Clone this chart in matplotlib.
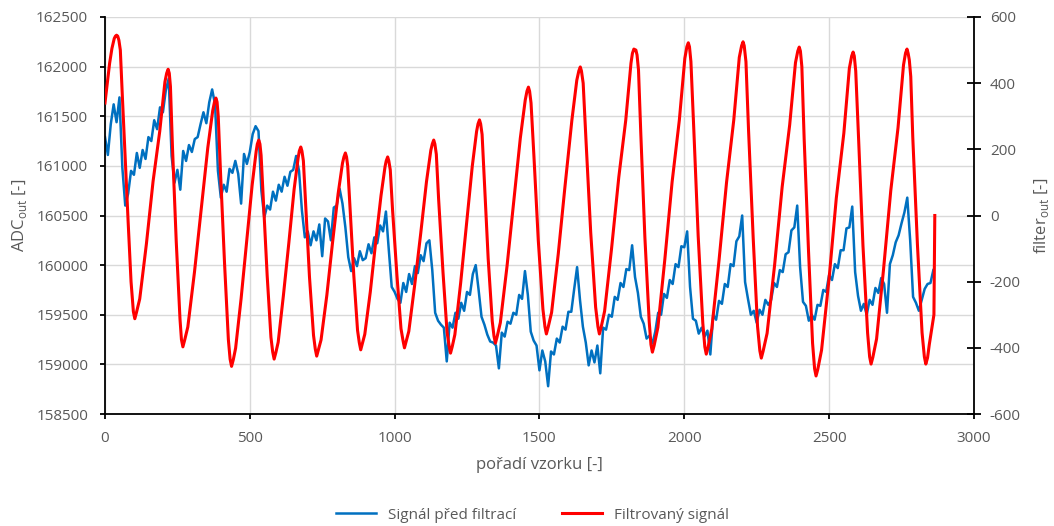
"""Raw ADC signal vs. filtered signal, dual y-axis line chart."""

import matplotlib
matplotlib.use("Agg")
import matplotlib.pyplot as plt
import numpy as np

plt.rcParams["font.family"] = ["Open Sans", "DejaVu Sans"]
plt.rcParams["mathtext.fontset"] = "custom"
plt.rcParams["mathtext.rm"] = "Open Sans"
plt.rcParams["axes.unicode_minus"] = False

# raw ADC samples, read every 10th sample off the chart
sample_idx = np.arange(0, 2870, 10)
adc_raw = [
    161290, 161110, 161420, 161620, 161440, 161690, 160980, 160600, 160720, 160950,
    160910, 161130, 160980, 161160, 161070, 161290, 161250, 161460, 161370, 161590,
    161540, 161760, 161880, 161100, 160830, 160960, 160760, 161150, 161050, 161210,
    161140, 161270, 161290, 161420, 161540, 161430, 161640, 161770, 161620, 160950,
    160680, 160810, 160740, 160970, 160930, 161050, 160920, 160620, 161120, 161020,
    161140, 161320, 161400, 161350, 160750, 160480, 160600, 160560, 160740, 160650,
    160810, 160740, 160890, 160800, 160940, 160960, 161100, 160950, 160550, 160280,
    160340, 160200, 160340, 160250, 160410, 160090, 160470, 160440, 160250, 160580,
    160600, 160770, 160620, 160380, 160080, 159940, 160070, 159990, 160140, 160050,
    160070, 160210, 160120, 160280, 160220, 160400, 160340, 160540, 160150, 159780,
    159730, 159660, 159620, 159820, 159730, 159910, 159810, 159990, 159920, 160100,
    160040, 160220, 160250, 159950, 159520, 159440, 159400, 159370, 159030, 159420,
    159370, 159520, 159460, 159620, 159540, 159730, 159700, 159910, 160000, 159750,
    159480, 159400, 159300, 159230, 159220, 159190, 158960, 159320, 159280, 159430,
    159410, 159520, 159500, 159700, 159660, 159940, 159700, 159330, 159240, 159190,
    158940, 159140, 159030, 158780, 159130, 159100, 159260, 159220, 159380, 159350,
    159530, 159530, 159760, 159980, 159650, 159380, 159220, 158990, 159140, 159020,
    159190, 158910, 159370, 159350, 159500, 159480, 159680, 159650, 159820, 159780,
    159960, 159950, 160200, 159880, 159720, 159480, 159410, 159260, 159290, 159210,
    159330, 159520, 159500, 159710, 159670, 159850, 159810, 160010, 159980, 160190,
    160180, 160340, 159780, 159460, 159440, 159310, 159370, 159280, 159340, 159100,
    159500, 159450, 159640, 159610, 159810, 159780, 160010, 159990, 160240, 160290,
    160500, 159830, 159660, 159500, 159540, 159420, 159550, 159500, 159650, 159600,
    159650, 159820, 159780, 159950, 159930, 160110, 160130, 160350, 160380, 160600,
    159980, 159630, 159590, 159440, 159500, 159450, 159600, 159590, 159750, 159730,
    159900, 159850, 160010, 159970, 160150, 160150, 160370, 160380, 160590, 159930,
    159690, 159540, 159610, 159500, 159650, 159600, 159770, 159720, 159870, 159810,
    159520, 160010, 160100, 160230, 160300, 160420, 160530, 160680, 160250, 159680,
    159620, 159540, 159650, 159760, 159810, 159820, 159950,
]

# filtered signal (right axis)
filt_idx = [
    0, 8, 16, 24, 32, 36, 40, 44, 48, 53, 60, 70, 80, 90, 98, 103,
    109, 120, 143, 166, 189, 207, 213, 218, 222, 226, 233, 246, 259, 264, 269,
    275, 286, 309, 332, 355, 372, 378, 383, 387, 391, 399, 413, 426, 432, 437,
    443, 451, 470, 489, 508, 522, 526, 531, 535, 539, 547, 560, 573, 579, 584,
    590, 598, 616, 635, 653, 667, 671, 676, 680, 685, 693, 706, 720, 726, 731,
    737, 746, 766, 785, 805, 820, 825, 830, 834, 838, 846, 859, 872, 878, 883,
    889, 897, 916, 934, 953, 967, 971, 976, 980, 985, 993, 1008, 1022, 1029, 1034,
    1040, 1049, 1069, 1090, 1110, 1125, 1130, 1135, 1139, 1144, 1152, 1167, 1181, 1188, 1193,
    1199, 1208, 1228, 1248, 1268, 1283, 1288, 1293, 1297, 1302, 1310, 1323, 1337, 1343, 1348,
    1354, 1365, 1388, 1411, 1434, 1451, 1457, 1462, 1466, 1471, 1481, 1496, 1512, 1519, 1524,
    1530, 1542, 1565, 1588, 1612, 1629, 1636, 1641, 1645, 1651, 1661, 1677, 1694, 1702, 1707,
    1713, 1725, 1749, 1774, 1798, 1816, 1821, 1826, 1833, 1837, 1842, 1850, 1864, 1879, 1885, 1890,
    1896, 1909, 1933, 1958, 1983, 2002, 2009, 2014, 2018, 2023, 2033, 2048, 2064, 2071, 2076,
    2082, 2095, 2120, 2146, 2171, 2190, 2198, 2203, 2207, 2213, 2222, 2238, 2253, 2261, 2266,
    2272, 2286, 2312, 2338, 2364, 2384, 2392, 2397, 2401, 2406, 2414, 2429, 2443, 2450, 2455,
    2461, 2474, 2500, 2525, 2551, 2570, 2578, 2583, 2587, 2592, 2602, 2617, 2633, 2640, 2645,
    2651, 2664, 2688, 2713, 2738, 2757, 2764, 2769, 2773, 2777, 2782, 2789, 2805, 2821, 2829, 2834,
    2840, 2846, 2862, 2865,
]
filt_val = [
    340, 400, 460, 505, 535, 542, 545, 542, 530, 500, 360, 170, -20, -200, -290, -312,
    -292, -252, -86, 103, 254, 404, 430, 442, 430, 390, 207, -78, -313, -375, -397,
    -377, -337, -171, 17, 205, 317, 343, 355, 343, 300, 128, -148, -375, -434, -456,
    -436, -401, -251, -80, 91, 194, 216, 228, 216, 182, 43, -182, -368, -412, -434,
    -414, -383, -242, -81, 79, 175, 195, 207, 195, 165, 30, -185, -362, -403, -425,
    -405, -376, -241, -87, 66, 158, 177, 189, 177, 150, 22, -180, -347, -384, -406,
    -386, -359, -231, -85, 60, 148, 165, 177, 165, 138, 15, -181, -342, -378, -400,
    -380, -350, -212, -55, 102, 197, 216, 228, 216, 185, 48, -171, -352, -394, -416,
    -396, -360, -204, -28, 148, 254, 277, 289, 277, 245, 100, -130, -319, -364, -386,
    -366, -324, -154, 40, 234, 349, 376, 388, 376, 340, 179, -75, -283, -336, -358,
    -338, -293, -116, 86, 288, 409, 437, 449, 437, 400, 223, -51, -277, -336, -358,
    -338, -289, -100, 116, 288, 460, 490, 503, 500, 485, 440, 247, -65, -321, -390, -413,
    -393, -338, -132, 101, 288, 475, 510, 522, 510, 465, 259, -61, -325, -397, -419,
    -399, -343, -136, 100, 289, 478, 513, 525, 513, 465, 257, -68, -335, -409, -431,
    -411, -356, -149, 86, 274, 462, 497, 509, 497, 450, 231, -107, -386, -463, -485,
    -465, -407, -191, 53, 249, 445, 482, 494, 482, 437, 230, -91, -355, -427, -449,
    -429, -373, -163, 75, 265, 455, 491, 503, 490, 470, 420, 236, -87, -354, -427, -449,
    -430, -390, -300, 0,
]

TEXT = "#595959"

fig, ax = plt.subplots(figsize=(10.54, 5.26), dpi=100)
fig.subplots_adjust(left=0.0996, right=0.924, top=0.9677, bottom=0.2129)
ax2 = ax.twinx()

l1, = ax.plot(sample_idx, adc_raw, color="#0070C0", lw=1.8, label="Signál před filtrací")
l2, = ax2.plot(filt_idx, filt_val, color="#FF0000", lw=2.2, label="Filtrovaný signál")

ax.set_xlim(0, 3000)
ax.set_ylim(158500, 162500)
ax2.set_ylim(-600, 600)
ax.set_xticks(range(0, 3001, 500))
ax.set_yticks(range(158500, 162501, 500))
ax2.set_yticks(range(-600, 601, 200))

ax.grid(color="#d9d9d9", lw=1)
ax.set_axisbelow(True)

for a in (ax, ax2):
    a.spines["top"].set_visible(False)
    for s in a.spines.values():
        s.set_linewidth(1.3)
        s.set_color("black")
ax2.spines["left"].set_visible(False)
ax2.spines["bottom"].set_visible(False)
ax.spines["right"].set_visible(False)

ax.tick_params(labelcolor=TEXT, labelsize=11, length=3.6, width=1.3, pad=8.5, color="black")
ax2.tick_params(labelcolor=TEXT, labelsize=11, length=9.4, width=1.3, pad=6.8,
                color="black", direction="inout")

ax.set_xlabel("pořadí vzorku [-]", color=TEXT, fontsize=12, labelpad=8)
ax.set_ylabel("ADC$_{\\mathrm{out}}$ [-]", color=TEXT, fontsize=12, labelpad=5)
ax2.set_ylabel("filter$_{\\mathrm{out}}$ [-]", color=TEXT, fontsize=12, labelpad=8)

leg = fig.legend([l1, l2], [l1.get_label(), l2.get_label()], loc="lower center",
                 bbox_to_anchor=(0.505, -0.02), ncol=2, frameon=False, fontsize=11,
                 handlelength=2.6, columnspacing=3.0)
for t in leg.get_texts():
    t.set_color(TEXT)

fig.savefig("out.png", dpi=100)
